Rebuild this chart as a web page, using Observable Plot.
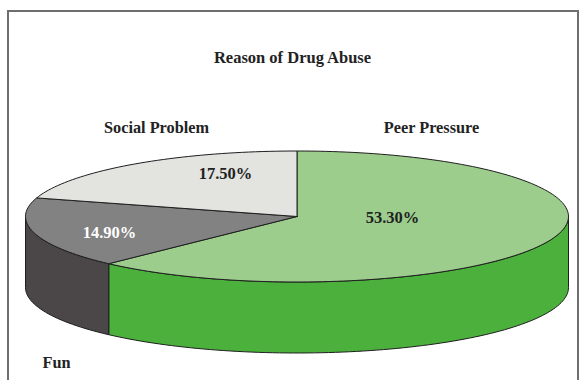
<!DOCTYPE html>
<html>
<head>
<meta charset="utf-8">
<script src="https://cdn.jsdelivr.net/npm/d3@7"></script>
<script src="https://cdn.jsdelivr.net/npm/@observablehq/plot@0.6"></script>
<style>
  html, body { margin: 0; padding: 0; background: #fff; overflow: hidden; }
  #wrap { position: relative; width: 582px; height: 380px; }
  #frame { position: absolute; left: 7px; top: 10px; width: 572px; height: 420px;
           border: 2px solid #6e6e6e; box-sizing: border-box; pointer-events: none; }
</style>
</head>
<body>
<div id="wrap"><div id="frame"></div></div>
<script>
// ---- data ----
const title = "Reason of Drug Abuse";
const categories = ["Peer Pressure", "Fun", "Social Problem"];
const values = [53.3, 14.9, 17.5];
const valueLabels = ["53.30%", "14.90%", "17.50%"];
const topColors = ["#9ccd8c", "#828282", "#e3e3e0"];
const sideColors = ["#4cb13c", "#4b4749", "#e3e3e0"];
const labelColors = ["#222", "#ffffff", "#222"];

// ---- layout (pixels) ----
const W = 582, H = 380;
const cx = 296.5, cy = 216, rx = 271.5, ry = 65.5, depthPx = 71;
const depth = depthPx / ry; // in data units
const px = x => (x - cx) / rx;
const py = y => (cy - y) / ry;

// slice angles (screen degrees, clockwise from +x, starting at top)
const total = d3.sum(values);
let acc = -90;
const slices = values.map((v, i) => {
  const a0 = acc, a1 = acc + v / total * 360;
  acc = a1;
  return {i, cat: categories[i], a0, a1};
});

const pt = (a, drop = 0) => {
  const r = a * Math.PI / 180;
  return {x: Math.cos(r), y: -Math.sin(r) - drop};
};
const arc = (a0, a1, drop = 0) => {
  const n = Math.max(2, Math.ceil(Math.abs(a1 - a0) / 1.5));
  return d3.range(n + 1).map(k => pt(a0 + (a1 - a0) * k / n, drop));
};

// top faces
const tops = slices.map(s => {
  const p = [{x: 0, y: 0}, ...arc(s.a0, s.a1), {x: 0, y: 0}];
  return {s, p};
});
// side faces (front half only: 0..180 screen degrees)
const sides = slices.map(s => {
  const b0 = Math.max(s.a0, 0), b1 = Math.min(s.a1, 180);
  if (b1 <= b0) return null;
  const p = [...arc(b0, b1), ...arc(b1, b0, depth)];
  p.push(p[0]);
  return {s, p};
}).filter(Boolean);

const labelPos = [[392, 217], [109, 232], [225, 173]];
const catPos = [[431, 127], [56, 362], [156, 127]];

const font = "'Liberation Serif', 'Times New Roman', serif";

const marks = [
  ...sides.map(d => Plot.line(d.p, {x: "x", y: "y", fill: sideColors[d.s.i], stroke: "#1e1e1e", strokeWidth: 1, curve: "linear"})),
  ...tops.map(d => Plot.line(d.p, {x: "x", y: "y", fill: topColors[d.s.i], stroke: "#1e1e1e", strokeWidth: 1, curve: "linear"})),
  Plot.text([title], {x: px(292), y: py(57), text: d => d, fontSize: 16.5, fontWeight: "bold", fill: "#222", fontFamily: font}),
  Plot.text(categories.map((c, i) => ({c, x: px(catPos[i][0]), y: py(catPos[i][1])})),
    {x: "x", y: "y", text: "c", fontSize: 16.3, fontWeight: "bold", fill: "#222", fontFamily: font}),
  Plot.text(valueLabels.map((t, i) => ({t, i, x: px(labelPos[i][0]), y: py(labelPos[i][1])})),
    {x: "x", y: "y", text: "t", fontSize: 16.5, fontWeight: "bold", fill: d => labelColors[d.i], fontFamily: font})
];

const chart = Plot.plot({
  width: W, height: H,
  margin: 0,
  x: {domain: [-1, 1], range: [cx - rx, cx + rx], axis: null},
  y: {domain: [-1, 1], range: [cy + ry, cy - ry], axis: null},
  style: {background: "transparent", overflow: "visible"},
  marks
});
document.getElementById("wrap").insertBefore(chart, document.getElementById("frame"));
</script>
</body>
</html>
